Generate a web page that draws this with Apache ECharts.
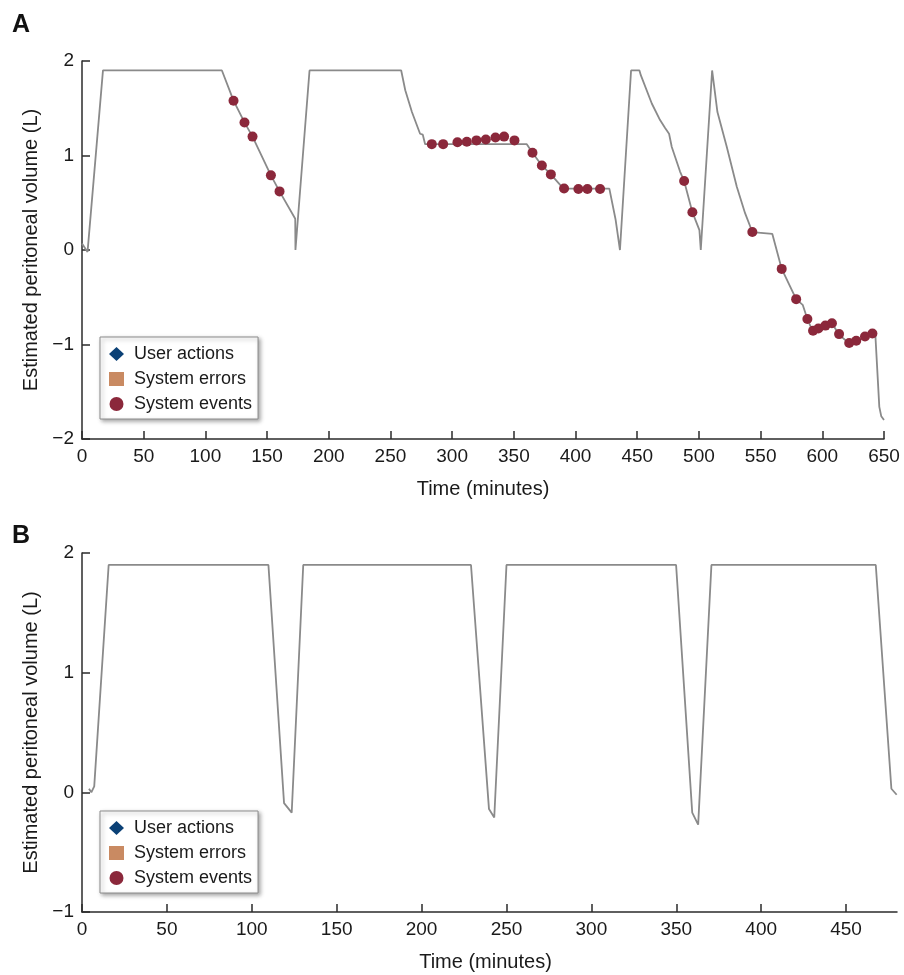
<!DOCTYPE html>
<html>
<head>
<meta charset="utf-8">
<script src="https://cdn.jsdelivr.net/npm/echarts@6/dist/echarts.min.js"></script>
<style>
html,body{margin:0;padding:0;background:#fff;}
#chart{width:904px;height:975px;}
</style>
</head>
<body>
<div id="chart"></div>
<script>
// Panel A: estimated peritoneal volume trace
const timeA = [0, 4.5, 17, 113.4, 122.8, 131.7, 138.2, 153.1, 160.1, 172.8, 173, 184.4, 258.7, 262, 267.4, 274, 276.2, 278.1, 360.5, 365.1, 372.7, 380, 390.2, 427.4, 432.5, 436, 445, 451.8, 452.9, 461.8, 468.5, 472.6, 475.8, 478, 484.7, 488, 494.7, 500.4, 501.5, 510.7, 515, 522.6, 530.7, 537.4, 543.3, 559.5, 567.1, 578.8, 584.1, 587.9, 592.2, 596.8, 602.7, 608.1, 613.5, 621.9, 627.8, 634.6, 640.5, 643, 646.2, 647.8, 650];
const volA  = [0.07, -0.02, 1.9, 1.9, 1.58, 1.35, 1.20, 0.79, 0.62, 0.33, 0.0, 1.9, 1.9, 1.69, 1.46, 1.23, 1.22, 1.12, 1.12, 1.03, 0.895, 0.80, 0.65, 0.65, 0.32, 0.0, 1.9, 1.9, 1.85, 1.55, 1.375, 1.29, 1.23, 1.09, 0.83, 0.73, 0.40, 0.21, 0.0, 1.9, 1.46, 1.09, 0.67, 0.39, 0.19, 0.17, -0.20, -0.52, -0.58, -0.73, -0.86, -0.83, -0.80, -0.78, -0.895, -0.99, -0.965, -0.92, -0.885, -0.90, -1.66, -1.76, -1.80];

// Panel A: system events
const eventTimeA = [122.8, 131.7, 138.2, 153.1, 160.1, 283.5, 292.7, 304.3, 311.9, 319.7, 327.3, 335.1, 342.1, 350.5, 365.1, 372.7, 380, 390.7, 402.3, 409.6, 419.9, 488, 494.7, 543.3, 567.1, 578.8, 587.9, 592.5, 596.8, 602.5, 607.8, 613.6, 621.8, 627.5, 634.6, 640.6];
const eventVolA  = [1.58, 1.35, 1.20, 0.79, 0.62, 1.12, 1.12, 1.14, 1.145, 1.16, 1.17, 1.19, 1.20, 1.16, 1.03, 0.895, 0.80, 0.65, 0.645, 0.645, 0.645, 0.73, 0.40, 0.19, -0.20, -0.52, -0.73, -0.855, -0.83, -0.80, -0.775, -0.89, -0.985, -0.96, -0.915, -0.883];

// Panel B: estimated peritoneal volume trace
const timeB = [4.1, 5.5, 7.2, 15.7, 109.8, 119, 123.5, 130.3, 229.1, 239.7, 242.8, 250, 349.9, 359.4, 362.9, 370.7, 467.5, 476.7, 479.8];
const volB  = [0.03, 0.0, 0.05, 1.9, 1.9, -0.09, -0.17, 1.9, 1.9, -0.14, -0.21, 1.9, 1.9, -0.17, -0.27, 1.9, 1.9, 0.03, -0.02];

// Legend entries, axis ranges and tick values
const legendNames = ['User actions', 'System errors', 'System events'];
const xRangeA = [0, 650], yRangeA = [-2, 2];
const xRangeB = [0, 480], yRangeB = [-1, 2];
const xTicksA = [0, 50, 100, 150, 200, 250, 300, 350, 400, 450, 500, 550, 600, 650];
const xTicksB = [0, 50, 100, 150, 200, 250, 300, 350, 400, 450];

const FONT = '"Liberation Sans", Arial, Helvetica, sans-serif';
const TXT = '#1a1a1a';
const AXC = '#2b2b2b';
const LINEC = '#8a8a8a';
const EVC = '#8b283b';

function pairs(xs, ys){ return xs.map((x,i)=>[x, ys[i]]); }
const minusFmt = v => String(v).replace('-', '\u2212');

function xAxis(idx, range, ticks, namePad){
  return {
    type:'value', gridIndex: idx, min: range[0], max: range[1], interval: 50,
    name:'Time (minutes)', nameLocation:'middle', nameGap: 40,
    nameTextStyle:{fontFamily:FONT, fontSize:20, color:TXT, padding:namePad},
    axisLine:{show:true, onZero:false, lineStyle:{color:AXC, width:1.5}},
    axisTick:{show:true, inside:true, length:8, customValues: ticks, lineStyle:{color:AXC, width:1.5}},
    axisLabel:{fontFamily:FONT, fontSize:19, color:TXT, margin:8, formatter:minusFmt, customValues: ticks},
    splitLine:{show:false}
  };
}
function yAxis(idx, range){
  return {
    type:'value', gridIndex: idx, min: range[0], max: range[1], interval: 1,
    name:'Estimated peritoneal volume (L)', nameLocation:'middle', nameGap: 40, nameRotate: 90,
    nameTextStyle:{fontFamily:FONT, fontSize:20, color:TXT},
    axisLine:{show:true, onZero:false, lineStyle:{color:AXC, width:1.5}},
    axisTick:{show:true, inside:true, length:8, lineStyle:{color:AXC, width:1.5}},
    axisLabel:{fontFamily:FONT, fontSize:19, color:TXT, margin:8, formatter:minusFmt},
    splitLine:{show:false}
  };
}
function legend(top){
  return {
    show:true, orient:'vertical', left:100, top:top,
    data:[
      {name:legendNames[0], icon:'diamond'},
      {name:legendNames[1], icon:'rect'},
      {name:legendNames[2], icon:'circle'}
    ],
    itemWidth:15, itemHeight:14, itemGap:7,
    padding:[8,6,6,9],
    backgroundColor:'#fff', borderColor:'#8c8c8c', borderWidth:1,
    shadowBlur:4, shadowColor:'rgba(0,0,0,0.35)', shadowOffsetX:2, shadowOffsetY:2,
    textStyle:{fontFamily:FONT, fontSize:18, color:TXT, lineHeight:18, padding:[0,0,0,5]},
    selectedMode:false
  };
}

const chart = echarts.init(document.getElementById('chart'), null, {renderer:'canvas'});
chart.setOption({
  animation:false,
  backgroundColor:'#fff',
  title:[
    {text:'A', left:7, top:8, textStyle:{fontFamily:FONT, fontSize:25, fontWeight:'bold', color:'#111'}},
    {text:'B', left:7, top:519, textStyle:{fontFamily:FONT, fontSize:25, fontWeight:'bold', color:'#111'}}
  ],
  grid:[
    {left:82, top:61, right:20, bottom:536},
    {left:82, top:553, right:7, bottom:63}
  ],
  xAxis:[xAxis(0, xRangeA, xTicksA, [0,0,0,0]), xAxis(1, xRangeB, xTicksB, [0,8,0,0])],
  yAxis:[yAxis(0, yRangeA), yAxis(1, yRangeB)],
  legend:[legend(337), legend(811)],
  series:[
    {type:'line', xAxisIndex:0, yAxisIndex:0, data:pairs(timeA, volA), showSymbol:false, symbol:'none',
     lineStyle:{color:LINEC, width:1.8}, z:2, silent:true},
    {type:'line', xAxisIndex:1, yAxisIndex:1, data:pairs(timeB, volB), showSymbol:false, symbol:'none',
     lineStyle:{color:LINEC, width:1.8}, z:2, silent:true},
    {name:legendNames[0], type:'scatter', xAxisIndex:0, yAxisIndex:0, data:[], symbol:'diamond', itemStyle:{color:'#0b4176', opacity:1}},
    {name:legendNames[1], type:'scatter', xAxisIndex:0, yAxisIndex:0, data:[], symbol:'rect', itemStyle:{color:'#c98a62', opacity:1}},
    {name:legendNames[2], type:'scatter', xAxisIndex:0, yAxisIndex:0, data:pairs(eventTimeA, eventVolA), symbol:'circle', symbolSize:10,
     itemStyle:{color:EVC, opacity:1}, z:3}
  ]
});
</script>
</body>
</html>
